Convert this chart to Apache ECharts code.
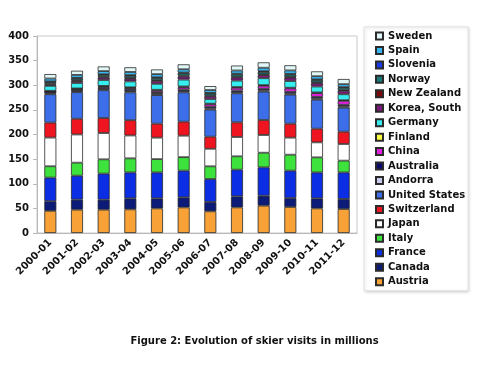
<!DOCTYPE html>
<html>
<head>
<meta charset="utf-8">
<script src="https://cdn.jsdelivr.net/npm/echarts@6/dist/echarts.min.js"></script>
<style>html,body{margin:0;padding:0;background:#fff}#c{width:480px;height:367px}</style>
</head>
<body>
<div id="c"></div>
<script>
var categories = ['2000-01','2001-02','2002-03','2003-04','2004-05','2005-06','2006-07','2007-08','2008-09','2009-10','2010-11','2011-12'];
var yTicks = [0, 50, 100, 150, 200, 250, 300, 350, 400];
var austria      = [45, 47.4, 47.4, 48, 50, 52, 44, 52, 55.5, 52.8, 50, 48.7];
var canada       = [19.5, 20.3, 20.3, 22.4, 20.4, 20.4, 19, 22.4, 20.3, 18.2, 20.4, 20.3];
var france       = [48, 48.7, 52.8, 52.6, 52.6, 54.2, 46.6, 54.2, 57.5, 55.6, 52.6, 54];
var italy        = [23, 26.4, 29.1, 28.6, 27, 27.4, 25.8, 27.1, 29.7, 32.4, 30.6, 23.9];
var japan        = [58.2, 57.2, 53.4, 46.4, 43.6, 43.6, 35.6, 39.2, 36, 34.6, 30.4, 33.8];
var switzerland  = [30.4, 32, 30.5, 31, 28.4, 28.4, 24.6, 29.8, 30.4, 28.4, 27.8, 25];
var unitedStates = [57.6, 54, 56.5, 56.6, 58, 59.6, 54.8, 58.9, 57.6, 58.9, 58.9, 48.8];
var andorra      = [2, 2.2, 2.4, 2.5, 2.5, 2.5, 2.4, 2.3, 2.3, 2.2, 2.3, 2.3];
var australia    = [3.5, 3.5, 3.5, 4, 3.5, 3.5, 3.5, 3.5, 3.5, 3.5, 3.5, 3.5];
var china        = [0.5, 0.8, 1.5, 2.5, 3.5, 4.5, 5, 5.5, 6, 7, 7.5, 8];
var finland      = [1, 1, 1.2, 1.2, 1.3, 1.4, 1.4, 1.5, 1.5, 1.4, 1.4, 1.4];
var germany      = [10, 11, 12, 12, 12, 14, 9, 13, 14, 13.5, 12, 12];
var koreaSouth   = [3, 4, 5, 5.5, 6, 6.5, 6, 6.5, 6.5, 7, 7, 7];
var newZealand   = [1.5, 1.5, 1.5, 1.5, 1.5, 1.5, 1.3, 1.3, 1.3, 1.3, 1.3, 1.3];
var norway       = [3.5, 4, 4, 4.5, 4.5, 5, 4.5, 5, 5, 5, 5, 5];
var slovenia     = [1, 1, 1.2, 1.2, 1.3, 1.3, 1, 1.3, 1.4, 1.3, 1.2, 1.2];
var spain        = [6, 6, 6.4, 6.5, 6.5, 6.7, 5.8, 6.5, 7, 7, 6.5, 6];
var sweden       = [9, 8.5, 9.5, 9.5, 9.5, 10, 8, 10, 11, 10.5, 9.8, 10.5];

var seriesNames = ['Austria','Canada','France','Italy','Japan','Switzerland','United States','Andorra','Australia','China','Finland','Germany','Korea, South','New Zealand','Norway','Slovenia','Spain','Sweden'];
var seriesData = [austria, canada, france, italy, japan, switzerland, unitedStates, andorra, australia, china, finland, germany, koreaSouth, newZealand, norway, slovenia, spain, sweden];
var seriesColors = ['#F7A136','#0C1A78','#0B2DE4','#3DE23D','#FFFFFF','#EE1520','#3B6EE8','#CACAF0','#0A0A6A','#DE22DE','#FFFF44','#36EEF0','#7A1A7A','#7A0A0A','#1A7A7A','#1A3BE8','#38B6F0','#E2F8F8'];

var chart = echarts.init(document.getElementById('c'), null, {renderer: 'canvas'});
var FONT = 'DejaVu Sans';
var series = seriesNames.map(function (n, i) {
  return {
    name: n, type: 'bar', stack: 'total', barWidth: 12,
    data: seriesData[i],
    itemStyle: { color: seriesColors[i], borderColor: '#2a2a2a', borderWidth: 0.8 },
    emphasis: { disabled: true }
  };
});
chart.setOption({
  animation: false,
  backgroundColor: '#fff',
  title: {
    text: 'Figure 2: Evolution of skier visits in millions',
    left: 249.5, textAlign: 'center', top: 331,
    textStyle: { fontFamily: FONT, fontSize: 10, fontWeight: 'bold', color: '#111' }
  },
  grid: { left: 37, right: 123, top: 36, bottom: 134, show: true, borderColor: '#c8c8c8', borderWidth: 1 },
  legend: {
    orient: 'vertical', left: 364, top: 27,
    data: seriesNames.slice().reverse(),
    icon: 'rect', itemWidth: 7, itemHeight: 7, itemGap: 4.45,
    padding: [4, 3, 4, 11],
    backgroundColor: '#fff', borderColor: '#e2e2e2', borderWidth: 1,
    shadowColor: 'rgba(0,0,0,0.15)', shadowBlur: 3, shadowOffsetX: 1, shadowOffsetY: 1,
    textStyle: { fontFamily: FONT, fontSize: 10, fontWeight: 'bold', color: '#111' }
  },
  xAxis: {
    type: 'category', data: categories,
    axisLine: { lineStyle: { color: '#b8b8b8' } },
    axisTick: { lineStyle: { color: '#b8b8b8' }, length: 4 },
    axisLabel: { rotate: 45, interval: 0, margin: 8, fontFamily: FONT, fontSize: 10, fontWeight: 'bold', color: '#111' }
  },
  yAxis: {
    type: 'value', min: yTicks[0], max: yTicks[yTicks.length - 1], interval: yTicks[1] - yTicks[0],
    axisLine: { show: true, lineStyle: { color: '#b8b8b8' } },
    axisTick: { show: true, lineStyle: { color: '#b8b8b8' }, length: 4 },
    splitLine: { show: false },
    axisLabel: { margin: 8, fontFamily: FONT, fontSize: 10, fontWeight: 'bold', color: '#111' }
  },
  series: series
});
</script>
</body>
</html>
